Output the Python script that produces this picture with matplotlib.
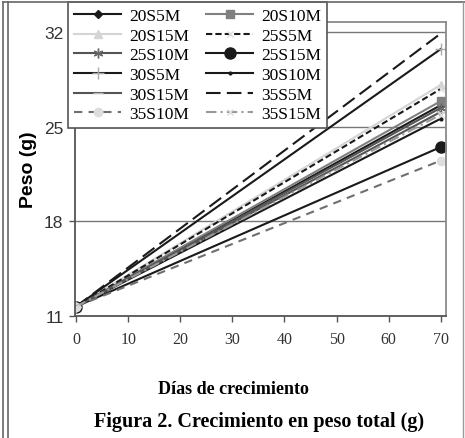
import matplotlib
matplotlib.use('Agg')
import matplotlib.pyplot as plt
from matplotlib.lines import Line2D

plt.rcParams['font.family'] = ['Liberation Serif', 'DejaVu Serif']

# days measured
dias = [0, 70]

# peso (g) at each day, per treatment
series = {
    '20S5M': [11.7, 26.6],
    '20S10M': [11.7, 26.9],
    '20S15M': [11.7, 28.1],
    '25S5M': [11.7, 27.8],
    '25S10M': [11.7, 26.4],
    '25S15M': [11.7, 23.5],
    '30S5M': [11.7, 30.75],
    '30S10M': [11.7, 25.6],
    '30S15M': [11.7, 26.1],
    '35S5M': [11.7, 31.9],
    '35S10M': [11.7, 22.5],
    '35S15M': [11.7, 25.9],
}

y_ticks = [11, 18, 25, 32]
x_ticks = [0, 10, 20, 30, 40, 50, 60, 70]

# line style for each treatment: color, linestyle, marker, marker color, marker size
styles = {
    '20S5M': ('#1a1a1a', '-', 'D', '#1a1a1a', 4),
    '20S10M': ('#808080', '-', 's', '#808080', 6),
    '20S15M': ('#d4d4d4', '-', '^', '#d4d4d4', 6),
    '25S5M': ('#1a1a1a', (0, (3, 1.5)), 'x', '#dddddd', 4),
    '25S10M': ('#555555', '-', (6, 2, 0), '#666666', 7),
    '25S15M': ('#1a1a1a', '-', 'o', '#1a1a1a', 8),
    '30S5M': ('#1a1a1a', '-', '+', '#aaaaaa', 8),
    '30S10M': ('#1a1a1a', '-', '.', '#1a1a1a', 4),
    '30S15M': ('#555555', '-', '_', '#bbbbbb', 7),
    '35S5M': ('#1a1a1a', (0, (7, 3)), None, '#1a1a1a', 4),
    '35S10M': ('#6f6f6f', (0, (4, 3)), 'o', '#dddddd', 6),
    '35S15M': ('#999999', (0, (5, 2, 1, 2)), 'x', '#dddddd', 4),
}

fig = plt.figure(figsize=(4.65, 4.39), dpi=100)
ax = fig.add_axes([74.5 / 465, 1 - 317 / 439, (446 - 74.5) / 465, (317 - 23) / 439])

handles = {}
for name, vals in series.items():
    c, ls, mk, mc, ms = styles[name]
    h, = ax.plot(dias, vals, color=c, linestyle=ls, linewidth=1.5, marker=mk,
                 markerfacecolor=mc, markeredgecolor=mc, markersize=ms, label=name)
    handles[name] = h

ax.set_xlim(-0.3, 71)
ax.set_ylim(11, 32.75)
ax.set_yticks(y_ticks)
ax.set_xticks(x_ticks)
ax.yaxis.grid(True, color='#777777', linewidth=1)
ax.set_axisbelow(True)

for side in ['left', 'bottom']:
    ax.spines[side].set_color('#555555')
    ax.spines[side].set_linewidth(1.3)
for side in ['top', 'right']:
    ax.spines[side].set_color('#8a8a8a')
    ax.spines[side].set_linewidth(1.3)

ax.tick_params(axis='both', direction='out', length=4, color='#555555', width=1)
ax.tick_params(axis='x', labelsize=11.5, pad=7, labelcolor='#333333')
ax.tick_params(axis='y', labelsize=12.5, pad=4, labelcolor='#333333')
for lbl in ax.get_yticklabels():
    lbl.set_fontfamily('Liberation Sans')

ax.set_ylabel('Peso (g)', fontfamily='Liberation Sans', fontweight='bold', fontsize=14)
ax.yaxis.set_label_coords(-0.1, 0.5)

fig.text(233 / 465, 1 - 390 / 439, 'Días de crecimiento', ha='center', va='center',
         fontweight='bold', fontsize=13)
fig.text(259 / 465, 1 - 422 / 439, 'Figura 2. Crecimiento en peso total (g)',
         ha='center', va='center', fontweight='bold', fontsize=14.5)

# legend filled row by row, like the original
order = ['20S5M', '20S15M', '25S10M', '30S5M', '30S15M', '35S10M',
         '20S10M', '25S5M', '25S15M', '30S10M', '35S5M', '35S15M']
leg = ax.legend([handles[n] for n in order], order, ncol=2, loc='upper left',
                bbox_to_anchor=(68 / 465, 1 - 3 / 439), bbox_transform=fig.transFigure,
                borderaxespad=0, fontsize=12.5, frameon=True, fancybox=False,
                edgecolor='#555555', framealpha=1, handlelength=2.7,
                handletextpad=0.45, columnspacing=1.0, labelspacing=0.2,
                borderpad=0.35)
leg.get_frame().set_linewidth(1.2)
leg.set_zorder(10)

# page frame around the figure
for x in [3 / 465, 8 / 465]:
    fig.add_artist(Line2D([x, x], [0, 1 - 3 / 439], color='#666666', linewidth=1.2))
fig.add_artist(Line2D([3 / 465, 1], [1 - 3 / 439, 1 - 3 / 439], color='#666666', linewidth=1.2))
fig.add_artist(Line2D([463 / 465, 463 / 465], [0, 1 - 3 / 439], color='#999999', linewidth=1))

fig.savefig('out.png', dpi=100, facecolor='white')
